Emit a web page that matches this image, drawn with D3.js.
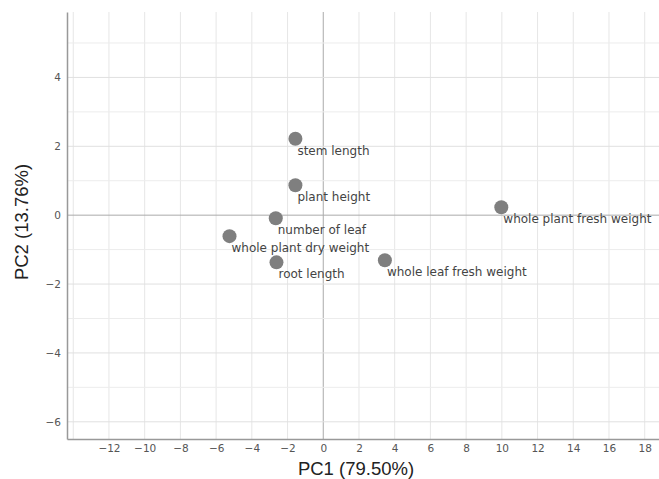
<!DOCTYPE html>
<html lang="en">
<head>
	<meta charset="UTF-8">
	<title>PCA</title>
	<script src="https://cdn.jsdelivr.net/npm/d3@7"></script>
	<style>
		body{margin:0;background:#fff;}
		svg{display:block;}
	</style>
</head>
<body>
	<div id="main"></div>
	<script>
		// loadings
		var labels = ["stem length","plant height","number of leaf","whole plant dry weight","root length","whole leaf fresh weight","whole plant fresh weight"];
		var pc1 = [-1.56, -1.56, -2.66, -5.25, -2.62, 3.45, 9.97];
		var pc2 = [2.22, 0.87, -0.09, -0.61, -1.37, -1.31, 0.23];
		var xTicks = [-12,-10,-8,-6,-4,-2,0,2,4,6,8,10,12,14,16,18];
		var yTicks = [-6,-4,-2,0,2,4];

		var W = 659, H = 479,
			m = {top:12, right:0, bottom:40, left:67};
		var w = W - m.left - m.right, h = H - m.top - m.bottom;

		var svg = d3.select("#main").append("svg").attr("width",W).attr("height",H);
		var g = svg.append("g").attr("transform","translate("+m.left+","+m.top+")");

		var x = d3.scaleLinear().domain([-14.35, 18.8]).range([0,w]);
		var y = d3.scaleLinear().domain([-6.5, 5.9]).range([h,0]);

		// grid
		g.append("g").selectAll("line").data(d3.range(-14,19,2)).enter().append("line")
			.attr("x1",d=>x(d)).attr("x2",d=>x(d)).attr("y1",0).attr("y2",h)
			.attr("stroke",d=>d===0?"#aaa":"#e6e6e6").attr("stroke-width",1);
		g.append("g").selectAll("line").data(d3.range(-6,6,1)).enter().append("line")
			.attr("x1",0).attr("x2",w).attr("y1",d=>y(d)).attr("y2",d=>y(d))
			.attr("stroke",d=>d===0?"#aaa":(d%2===0?"#e0e0e0":"#ececec")).attr("stroke-width",1);

		// axes
		var xAxis = g.append("g").attr("transform","translate(0,"+h+")")
			.call(d3.axisBottom(x).tickValues(xTicks).tickSize(0).tickPadding(6));
		var yAxis = g.append("g")
			.call(d3.axisLeft(y).tickValues(yTicks).tickSize(0).tickPadding(6));
		[xAxis,yAxis].forEach(function(a){
			a.select(".domain").attr("stroke","#999").attr("stroke-width",1.5);
			a.selectAll("text").attr("fill","#555").style("font-family","DejaVu Sans, Verdana, sans-serif").style("font-size","10.5px");
		});

		// points
		var data = labels.map((d,i)=>({label:d, x:pc1[i], y:pc2[i]}));
		var pts = g.append("g").selectAll("g").data(data).enter().append("g")
			.attr("transform",d=>"translate("+x(d.x)+","+y(d.y)+")");
		pts.append("circle").attr("r",7).attr("fill","#7f7f7f");
		pts.append("text").text(d=>d.label)
			.attr("x",2).attr("y",16)
			.attr("fill","#444")
			.style("font-family","DejaVu Sans, Verdana, sans-serif")
			.style("font-size","12px");

		// titles
		svg.append("text").text("PC1 (79.50%)")
			.attr("x",356).attr("y",475)
			.attr("text-anchor","middle").attr("fill","#222")
			.style("font-family","Liberation Sans, Arial, sans-serif").style("font-size","18.5px");
		svg.append("text").text("PC2 (13.76%)")
			.attr("transform","translate(28,222) rotate(-90)")
			.attr("text-anchor","middle").attr("fill","#222")
			.style("font-family","Liberation Sans, Arial, sans-serif").style("font-size","18.5px");
	</script>
</body>
</html>
